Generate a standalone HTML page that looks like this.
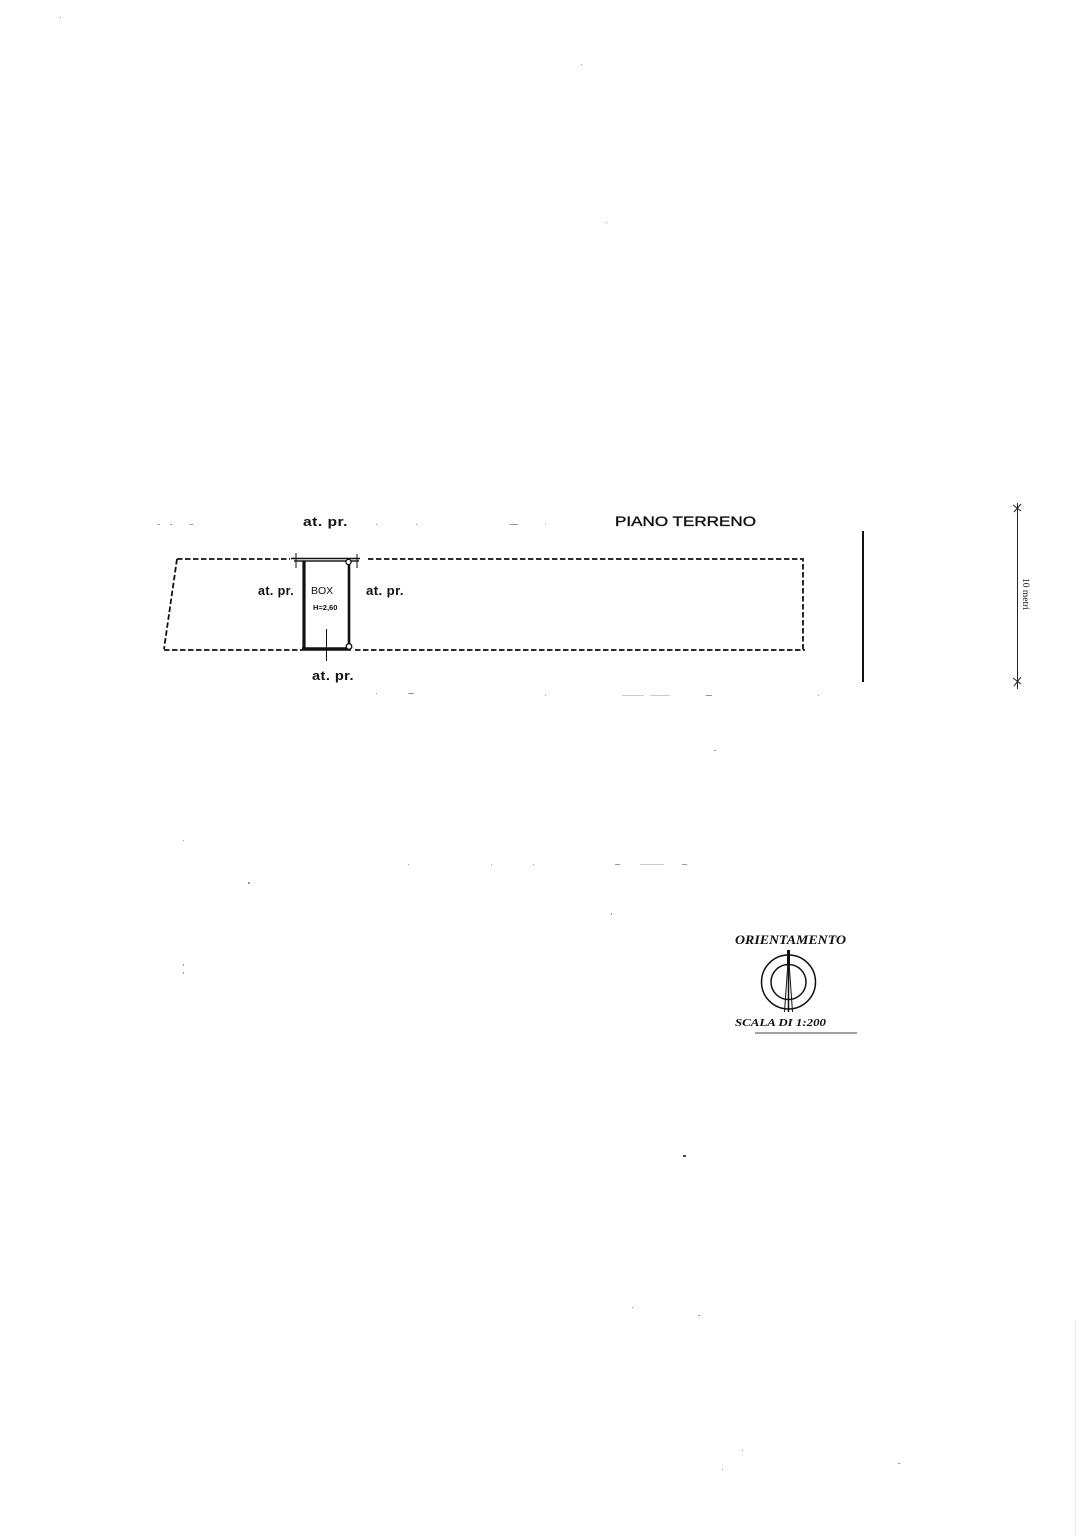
<!DOCTYPE html>
<html><head><meta charset="utf-8"><style>
html,body{margin:0;padding:0;background:#fff;width:1086px;height:1536px;overflow:hidden}
svg{display:block}
text{fill:#111}
.h{font-family:"Liberation Sans",sans-serif;font-weight:bold;font-size:13px;letter-spacing:.4px}
.s{font-family:"Liberation Serif",serif;font-weight:bold;font-style:italic}
</style></head><body>
<svg width="1086" height="1536" viewBox="0 0 1086 1536" xmlns="http://www.w3.org/2000/svg">
<rect width="1086" height="1536" fill="#fff"/>
<!-- dashed plot -->
<g fill="none" stroke="#111" stroke-width="1.800" stroke-dasharray="5.5 2.5">
<path d="M177 559H290"/><path d="M368 559H803V650"/>
<path d="M177 559L164 649"/><path d="M164 650H302"/><path d="M355 650H805"/>
</g>
<!-- box -->
<g fill="none" stroke="#111">
<path d="M291 558.500H360" stroke-width="1.500"/>
<path d="M294 561H359" stroke-width="2" stroke="#555"/>
<path d="M296 553V568M357 554V568" stroke-width="1"/>
<path d="M304 561V650" stroke-width="3.200"/>
<path d="M349 561V648" stroke-width="2.600"/>
<path d="M302 649H351" stroke-width="3.400"/>
<path d="M326.500 629V661" stroke-width="1"/>
</g>
<circle cx="348.500" cy="562" r="2.600" fill="#fff" stroke="#111" stroke-width="1.300"/>
<circle cx="349" cy="646.500" r="2.800" fill="#fff" stroke="#111" stroke-width="1.300"/>
<text class="h" x="303" y="526" textLength="45" lengthAdjust="spacingAndGlyphs">at. pr.</text>
<text class="h" x="258" y="595" textLength="36" lengthAdjust="spacingAndGlyphs">at. pr.</text>
<text class="h" x="366" y="595" textLength="38" lengthAdjust="spacingAndGlyphs">at. pr.</text>
<text class="h" x="312" y="680" textLength="42" lengthAdjust="spacingAndGlyphs">at. pr.</text>
<text x="311" y="594" font-family="Liberation Sans,sans-serif" font-size="10.500">BOX</text>
<text x="313" y="610" font-family="Liberation Sans,sans-serif" font-size="7.500" font-weight="bold">H=2,60</text>
<text x="615" y="526" font-family="Liberation Sans,sans-serif" font-size="13.500" stroke="#111" stroke-width=".35" textLength="141" lengthAdjust="spacingAndGlyphs">PIANO TERRENO</text>
<!-- vertical bar -->
<path d="M863 531V682" stroke="#111" stroke-width="2" fill="none"/>
<!-- scale -->
<g stroke="#222" fill="none" stroke-width="1">
<path d="M1017.500 503V689"/>
<path d="M1013 505L1021 511M1021 504L1014 512"/>
<path d="M1013 678L1021 684M1021 677L1014 686"/>
</g>
<text transform="translate(1023,578) rotate(90)" font-family="Liberation Serif,serif" font-size="9.500" fill="#222">10 metri</text>
<!-- orientation -->
<text class="s" x="735" y="944" font-size="12.500" textLength="111" lengthAdjust="spacingAndGlyphs">ORIENTAMENTO</text>
<g fill="none" stroke="#111">
<circle cx="788.500" cy="982" r="27" stroke-width="1.500"/>
<circle cx="788.500" cy="982" r="17.500" stroke-width="1.500"/>
<path d="M788.500 950V1012" stroke-width="1.500"/>
<path d="M788.500 955L784.500 1012M788.500 955L792.500 1012" stroke-width="1"/>
<path d="M788.500 950V966" stroke-width="3"/>
</g>
<text class="s" x="735" y="1026" font-size="10.500" textLength="91" lengthAdjust="spacingAndGlyphs">SCALA DI 1:200</text>
<path d="M755 1033H857" stroke="#444" stroke-width="1" fill="none"/>
<!-- specks -->
<g fill="#999">
<rect x="60" y="17" width="1" height="1"/><rect x="581" y="64" width="1" height="1"/><rect x="606" y="222" width="1" height="1"/>
<rect x="158" y="524" width="2" height="1"/><rect x="170" y="524" width="2" height="1"/><rect x="190" y="524" width="3" height="1"/>
<rect x="376" y="524" width="1" height="1"/><rect x="416" y="524" width="1" height="1"/><rect x="510" y="524" width="8" height="1"/><rect x="545" y="524" width="1" height="1"/>
<rect x="376" y="693" width="1" height="1"/><rect x="408" y="693" width="6" height="1"/><rect x="545" y="695" width="1" height="1"/><rect x="622" y="695" width="22" height="1" opacity=".5"/><rect x="650" y="695" width="20" height="1" opacity=".5"/><rect x="706" y="695" width="6" height="1"/><rect x="818" y="695" width="1" height="1"/>
<rect x="714" y="750" width="2" height="1"/><rect x="183" y="840" width="1" height="1"/><rect x="248" y="882" width="2" height="2"/>
<rect x="408" y="864" width="1" height="1"/><rect x="491" y="864" width="1" height="1"/><rect x="533" y="864" width="1" height="1"/><rect x="615" y="864" width="5" height="1"/><rect x="640" y="864" width="24" height="1" opacity=".5"/><rect x="682" y="864" width="5" height="1"/>
<rect x="611" y="913" width="1" height="2"/><rect x="183" y="964" width="1" height="2"/><rect x="183" y="972" width="1" height="2"/>
<rect x="632" y="1307" width="1" height="1"/><rect x="698" y="1315" width="2" height="1"/><rect x="742" y="1450" width="1" height="1"/><rect x="898" y="1463" width="2" height="1"/><rect x="722" y="1469" width="1" height="1"/>
<rect x="1075" y="1320" width="1" height="216" opacity=".2"/>
</g>
<rect x="683" y="1155" width="3" height="2" fill="#444"/>
</svg>
</body></html>
